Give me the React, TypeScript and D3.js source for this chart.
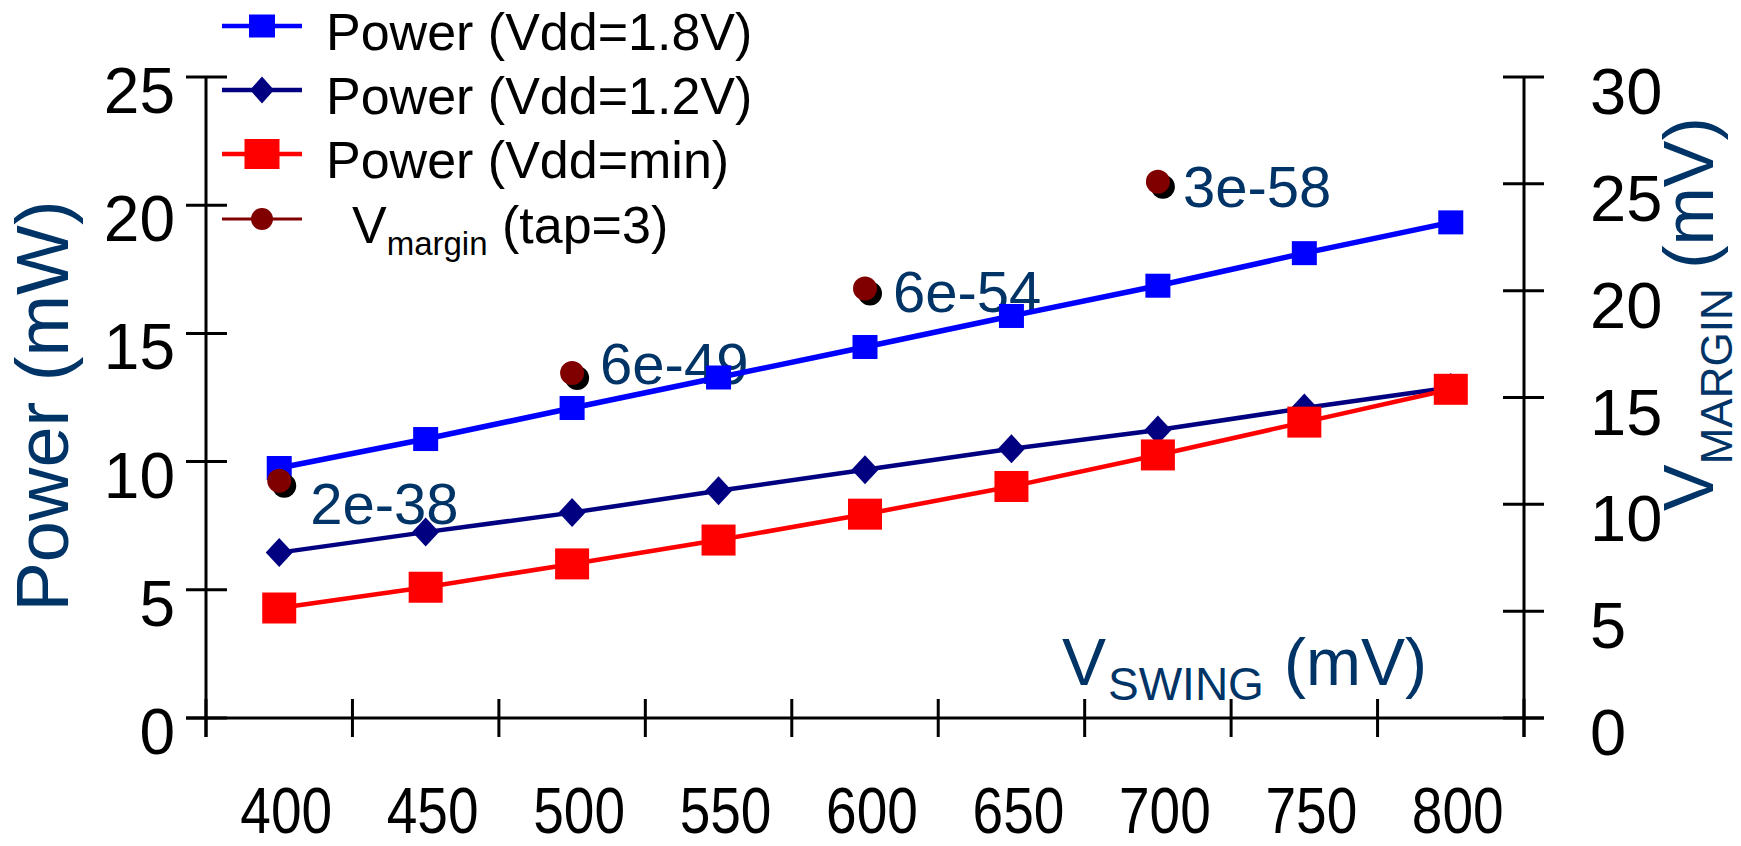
import React from "react";
import * as d3 from "d3";

// swing voltage categories (mV)
const swing = [400, 450, 500, 550, 600, 650, 700, 750, 800];
// power (mW)
const power18 = [9.75, 10.88, 12.09, 13.28, 14.47, 15.68, 16.86, 18.13, 19.33];
const power12 = [6.45, 7.25, 8.01, 8.86, 9.68, 10.5, 11.23, 12.09, 12.89];
const powerMin = [4.29, 5.1, 6.01, 6.94, 7.95, 9.03, 10.26, 11.54, 12.82];
// voltage margin (mV), tap=3, with BER labels
const marginSwing = [400, 500, 600, 700];
const vMargin = [11.1, 16.15, 20.1, 25.1];
const berLabels = ["2e-38", "6e-49", "6e-54", "3e-58"];

const powerTicks = [0, 5, 10, 15, 20, 25];
const marginTicks = [0, 5, 10, 15, 20, 25, 30];

const W = 1741;
const H = 846;
const FONT = "'Liberation Sans', Arial, sans-serif";
const TITLE = "#003366";

// small nudges so each BER label sits where the original put it
const labelNudge = [
  [31, 43],
  [28, 11],
  [28, 23],
  [25, 25],
];

const App = () => {
  const x = d3
    .scaleBand<string>()
    .domain(swing.map(String))
    .range([206, 1524])
    .padding(0);
  const cx = (v: number) => (x(String(v)) as number) + x.bandwidth() / 2;
  const yL = d3.scaleLinear().domain([0, 25]).range([718, 77]);
  const yR = d3.scaleLinear().domain([0, 30]).range([718, 77]);

  const line = d3
    .line<number>()
    .x((_, i) => cx(swing[i]))
    .y((d) => yL(d));

  const xTicks = [...swing.map((s) => x(String(s)) as number), x.range()[1]];

  const square = (px: number, py: number, w: number, h: number, fill: string, key: string) => (
    <rect key={key} x={px - w / 2} y={py - h / 2} width={w} height={h} fill={fill} />
  );
  const diamond = (px: number, py: number, w: number, h: number, fill: string, key: string) => (
    <path
      key={key}
      d={`M${px},${py - h / 2}L${px + w / 2},${py}L${px},${py + h / 2}L${px - w / 2},${py}Z`}
      fill={fill}
    />
  );

  const legendY = [26, 90, 154, 219];

  return (
    <svg
      width={W}
      height={H}
      style={{ position: "absolute", left: 0, top: 0, background: "#fff" }}
      fontFamily={FONT}
    >
      {/* axes */}
      <g stroke="#000" strokeWidth={3}>
        <line x1={206} x2={206} y1={yL(25)} y2={737} />
        <line x1={1524} x2={1524} y1={yR(30)} y2={737} />
        <line x1={186} x2={1544} y1={718} y2={718} />
        {powerTicks.map((t) => (
          <line key={"lt" + t} x1={186} x2={227} y1={yL(t)} y2={yL(t)} />
        ))}
        {marginTicks.map((t) => (
          <line key={"rt" + t} x1={1503} x2={1544} y1={yR(t)} y2={yR(t)} />
        ))}
        {xTicks.map((t, i) => (
          <line key={"xt" + i} x1={t} x2={t} y1={699} y2={737} />
        ))}
      </g>

      {/* tick labels */}
      <g fontSize={64} fill="#000">
        {powerTicks.map((t) => (
          <text key={"ll" + t} x={175} y={yL(t) + 36} textAnchor="end">
            {t}
          </text>
        ))}
        {marginTicks.map((t) => (
          <text key={"rl" + t} x={1590} y={yR(t) + 37} fontSize={65}>
            {t}
          </text>
        ))}
        {swing.map((s) => (
          <text
            key={"bl" + s}
            transform={`translate(${cx(s) + 7},833) scale(0.86,1)`}
            textAnchor="middle"
          >
            {s}
          </text>
        ))}
      </g>

      {/* axis titles */}
      <text
        transform="translate(68,406) rotate(-90)"
        textAnchor="middle"
        fontSize={74}
        fill={TITLE}
      >
        Power (mW)
      </text>
      <text transform="translate(1713,511) rotate(-90)" fontSize={70} fill={TITLE}>
        <tspan>V</tspan>
        <tspan fontSize={44} dy={19}>
          MARGIN
        </tspan>
        <tspan dy={-19}> (mV)</tspan>
      </text>
      <text fontSize={66} fill={TITLE}>
        <tspan x={1062} y={685}>
          V
        </tspan>
        <tspan x={1108} y={700} fontSize={46}>
          SWING
        </tspan>
        <tspan x={1284} y={685}>
          (mV)
        </tspan>
      </text>

      {/* BER labels */}
      {berLabels.map((l, i) => (
        <text
          key={"ber" + i}
          x={cx(marginSwing[i]) + labelNudge[i][0]}
          y={yR(vMargin[i]) + labelNudge[i][1]}
          fontSize={58}
          fill={TITLE}
        >
          {l}
        </text>
      ))}

      {/* series */}
      <path d={line(power18) as string} fill="none" stroke="#0000ff" strokeWidth={5.5} />
      {power18.map((v, i) => square(cx(swing[i]), yL(v), 25, 24, "#0000ff", "b" + i))}

      <path d={line(power12) as string} fill="none" stroke="#000080" strokeWidth={4.5} />
      {power12.map((v, i) => diamond(cx(swing[i]), yL(v), 27, 29, "#000080", "n" + i))}

      <path d={line(powerMin) as string} fill="none" stroke="#ff0000" strokeWidth={4.5} />
      {powerMin.map((v, i) => square(cx(swing[i]), yL(v), 34, 31, "#ff0000", "r" + i))}

      {vMargin.map((v, i) => (
        <g key={"m" + i}>
          <circle cx={cx(marginSwing[i]) + 5} cy={yR(v) + 5} r={12} fill="#000" />
          <circle cx={cx(marginSwing[i])} cy={yR(v)} r={12} fill="#800000" />
        </g>
      ))}

      {/* legend */}
      <g>
        <line x1={222} x2={302} y1={legendY[0]} y2={legendY[0]} stroke="#0000ff" strokeWidth={4.5} />
        {square(262, legendY[0], 26, 23, "#0000ff", "lg0")}
        <line x1={222} x2={302} y1={legendY[1]} y2={legendY[1]} stroke="#000080" strokeWidth={4.5} />
        {diamond(262, legendY[1], 24, 27, "#000080", "lg1")}
        <line x1={222} x2={302} y1={legendY[2]} y2={legendY[2]} stroke="#ff0000" strokeWidth={4.5} />
        {square(262, legendY[2], 35, 30, "#ff0000", "lg2")}
        <line x1={222} x2={302} y1={legendY[3]} y2={legendY[3]} stroke="#800000" strokeWidth={3} />
        <circle cx={262} cy={legendY[3]} r={11} fill="#800000" />
        <g fontSize={52} fill="#000">
          <text x={326} y={legendY[0] + 24}>Power (Vdd=1.8V)</text>
          <text x={326} y={legendY[1] + 24}>Power (Vdd=1.2V)</text>
          <text x={326} y={legendY[2] + 24}>Power (Vdd=min)</text>
          <text x={352} y={legendY[3] + 24}>
            <tspan>V</tspan>
            <tspan fontSize={33} dy={12}>
              margin
            </tspan>
            <tspan dy={-12}> (tap=3)</tspan>
          </text>
        </g>
      </g>
    </svg>
  );
};

export default App;
